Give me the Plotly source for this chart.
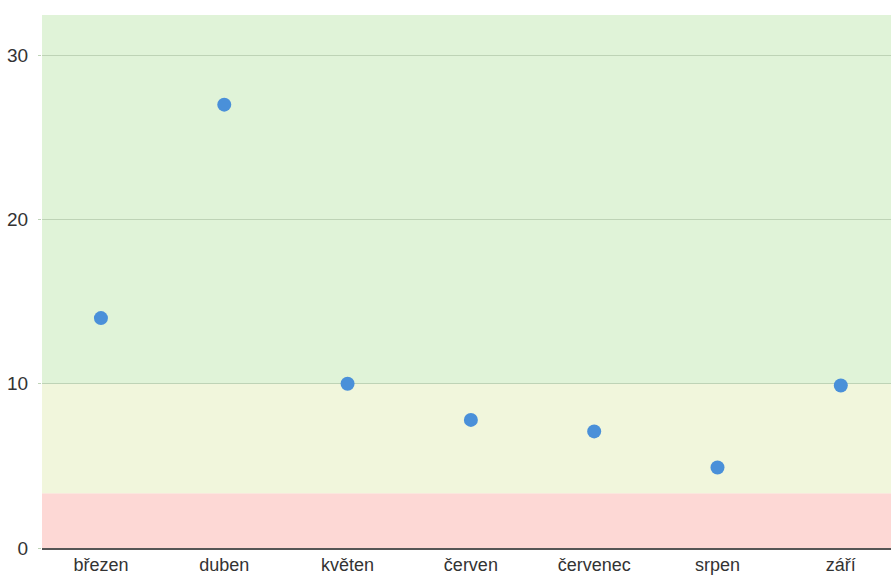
import plotly.graph_objects as go

months = ["březen", "duben", "květen", "červen", "červenec", "srpen", "září"]
values = [14, 27, 10, 7.8, 7.1, 4.9, 9.9]
y_ticks = [0, 10, 20, 30]
band_edges = [0, 3.33, 10, 32.46]
band_colors = ["#fdd8d5", "#f1f6dc", "#e0f3d8"]

fig = go.Figure()
fig.add_trace(go.Scatter(
    x=months, y=values, mode="markers",
    marker=dict(color="#4a90d9", size=14),
    showlegend=False, cliponaxis=False,
))

for i in range(len(band_colors)):
    fig.add_shape(type="rect", xref="paper", yref="y",
                  x0=0, x1=1, y0=band_edges[i], y1=band_edges[i + 1],
                  fillcolor=band_colors[i], line_width=0, layer="below")

fig.update_layout(
    width=891, height=577,
    margin=dict(l=42, r=0, t=15, b=29, autoexpand=False),
    paper_bgcolor="white", plot_bgcolor="white",
    font=dict(family="Liberation Sans, Arial, sans-serif", size=19, color="#333"),
    xaxis=dict(range=[-0.478, 6.407], showgrid=False, showline=True,
               linecolor="#555", linewidth=1.5, ticks="", zeroline=False,
               automargin=False, ticklabelstandoff=0, tickfont=dict(size=18)),
    yaxis=dict(range=[0, band_edges[-1]], tickvals=y_ticks, showgrid=True,
               gridcolor="#bed3b6", gridwidth=1.3, zeroline=False, ticks="outside",
               ticklen=3, tickcolor="#bed3b6", automargin=False, ticklabelstandoff=6),
)

fig.write_html("out.html", config={"displayModeBar": False},
               post_script="document.body.style.margin='0';document.body.style.overflow='hidden';")
